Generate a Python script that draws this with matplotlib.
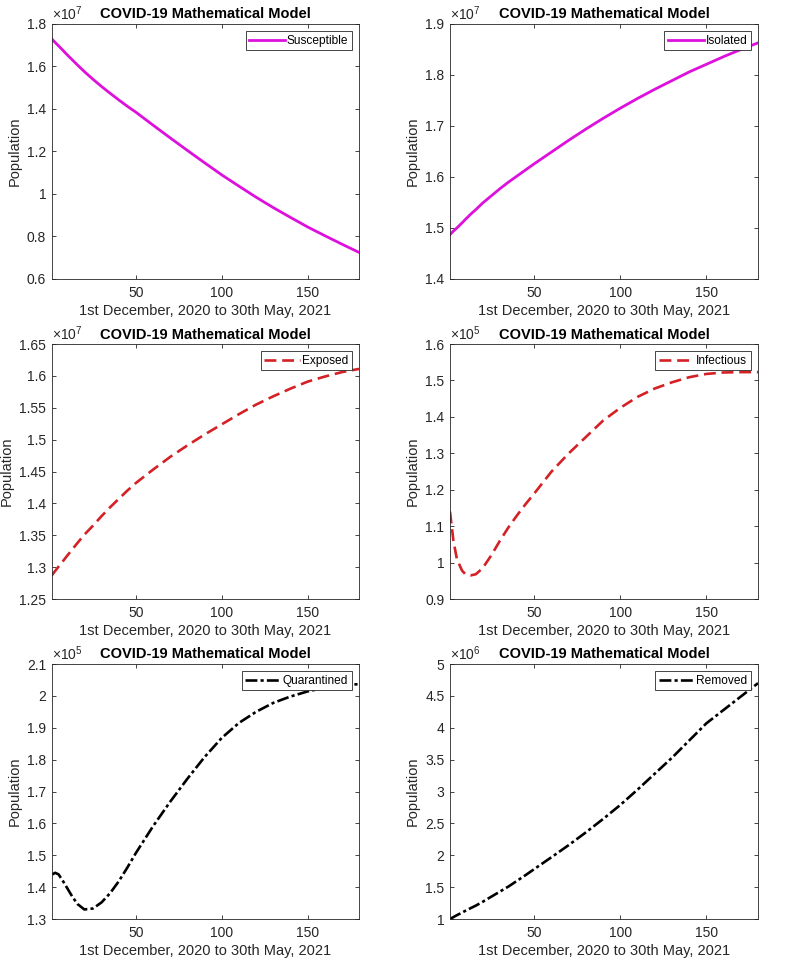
import matplotlib
matplotlib.use("Agg")
import matplotlib.pyplot as plt
from matplotlib.ticker import FuncFormatter, FixedLocator

plt.rcParams['font.family'] = ['Liberation Sans', 'DejaVu Sans']
plt.rcParams['mathtext.fontset'] = 'custom'
plt.rcParams['mathtext.rm'] = 'Liberation Sans'

days = [1, 3, 5, 8, 10, 13, 16, 20, 25, 30, 35, 40, 45, 50, 60, 70, 80, 90,
        100, 110, 120, 130, 140, 150, 160, 170, 180]

# values in units of the exponent shown on each panel
susceptible = [1.730, 1.713, 1.697, 1.672, 1.655, 1.631, 1.607, 1.576, 1.540, 1.506,
               1.474, 1.443, 1.413, 1.385, 1.324, 1.264, 1.205, 1.147, 1.090, 1.037,
               0.985, 0.936, 0.890, 0.845, 0.804, 0.764, 0.725]
isolated = [1.487, 1.494, 1.500, 1.510, 1.517, 1.527, 1.536, 1.549, 1.563, 1.577,
            1.590, 1.602, 1.614, 1.626, 1.649, 1.672, 1.694, 1.715, 1.735, 1.754,
            1.772, 1.789, 1.806, 1.821, 1.836, 1.850, 1.863]
exposed = [1.287, 1.294, 1.301, 1.311, 1.318, 1.328, 1.338, 1.351, 1.365, 1.380,
           1.394, 1.407, 1.420, 1.432, 1.453, 1.473, 1.491, 1.508, 1.524, 1.540,
           1.555, 1.568, 1.580, 1.591, 1.599, 1.606, 1.611]
infectious = [1.140, 1.060, 1.010, 0.978, 0.968, 0.965, 0.968, 0.985, 1.020, 1.060,
              1.097, 1.130, 1.161, 1.190, 1.250, 1.300, 1.345, 1.390, 1.425, 1.455,
              1.478, 1.495, 1.509, 1.518, 1.522, 1.523, 1.523]
quarantined = [1.439, 1.445, 1.440, 1.415, 1.397, 1.370, 1.347, 1.330, 1.333, 1.352,
               1.381, 1.418, 1.461, 1.507, 1.591, 1.668, 1.740, 1.808, 1.868, 1.915,
               1.950, 1.978, 1.998, 2.014, 2.026, 2.033, 2.037]
removed = [1.00, 1.03, 1.06, 1.10, 1.13, 1.17, 1.21, 1.27, 1.35, 1.43,
           1.51, 1.60, 1.69, 1.784, 1.97, 2.16, 2.36, 2.57, 2.79, 3.03, 3.28, 3.53,
           3.80, 4.07, 4.28, 4.49, 4.70]

names = ['Susceptible', 'Isolated', 'Exposed', 'Infectious', 'Quarantined', 'Removed']
series = [susceptible, isolated, exposed, infectious, quarantined, removed]
exponents = [7, 7, 7, 5, 5, 6]
ylims = [(0.6, 1.8), (1.4, 1.9), (1.25, 1.65), (0.9, 1.6), (1.3, 2.1), (1.0, 5.0)]
ysteps = [0.2, 0.1, 0.05, 0.1, 0.1, 0.5]
colors = ['#dd10dd', '#dd10dd', '#d42126', '#d42126', '#000000', '#000000']
styles = ['-', '-', '--', '--', '-.', '-.']
xticks = [50, 100, 150]

AX = '#262626'
fig = plt.figure(figsize=(7.97, 9.6), dpi=100)
lefts = [0.0649, 0.5646]
widths = [0.3856, 0.3865]
bottoms = [0.7094, 0.376, 0.0427]
height = 0.2656

for i, (name, vals) in enumerate(zip(names, series)):
    r, c = divmod(i, 2)
    ax = fig.add_axes([lefts[c], bottoms[r], widths[c], height])
    scale = 10 ** exponents[i]
    yv = [v * scale for v in vals]
    if styles[i] == '--':
        ax.plot(days, yv, color=colors[i], lw=1.9, dashes=(4.5, 2.2), label=name)
    elif styles[i] == '-.':
        ax.plot(days, yv, color=colors[i], lw=1.9, dashes=(4.5, 1.2, 1.2, 1.2), label=name)
    else:
        ax.plot(days, yv, color=colors[i], lw=2.0, label=name)
    ax.set_xlim(1, 180)
    lo, hi = ylims[i]
    ax.set_ylim(lo * scale, hi * scale)
    n = int(round((hi - lo) / ysteps[i]))
    ticks = [(lo + k * ysteps[i]) * scale for k in range(n + 1)]
    ax.yaxis.set_major_locator(FixedLocator(ticks))
    ax.yaxis.set_major_formatter(FuncFormatter(lambda v, p, s=scale: '%g' % round(v / s, 4)))
    ax.set_xticks(xticks)
    ax.tick_params(direction='in', length=3, width=0.6, colors=AX, labelsize=10,
                   top=True, right=True)
    ax.tick_params(axis='x', pad=5)
    ax.tick_params(axis='y', pad=4)
    for sp in ax.spines.values():
        sp.set_color(AX)
        sp.set_linewidth(0.6)
    ax.set_title('COVID-19 Mathematical Model', fontsize=10.5, fontweight='bold',
                 color='black', pad=4)
    ax.set_xlabel('1st December, 2020 to 30th May, 2021', fontsize=10.5, color=AX, labelpad=3)
    ax.set_ylabel('Population', fontsize=10.5, color=AX, labelpad=4)
    ax.text(0.0, 1.004, r'$\times\mathregular{10^{%d}}$' % exponents[i], transform=ax.transAxes,
            fontsize=10, color=AX, ha='left', va='bottom')
    leg = ax.legend(loc='upper right', fontsize=8.6, handlelength=3.0, handletextpad=0.15,
                    borderpad=0.3, borderaxespad=0.6, fancybox=False, framealpha=1)
    leg.get_frame().set_edgecolor(AX)
    leg.get_frame().set_linewidth(0.6)

fig.savefig('out.png', dpi=100)
